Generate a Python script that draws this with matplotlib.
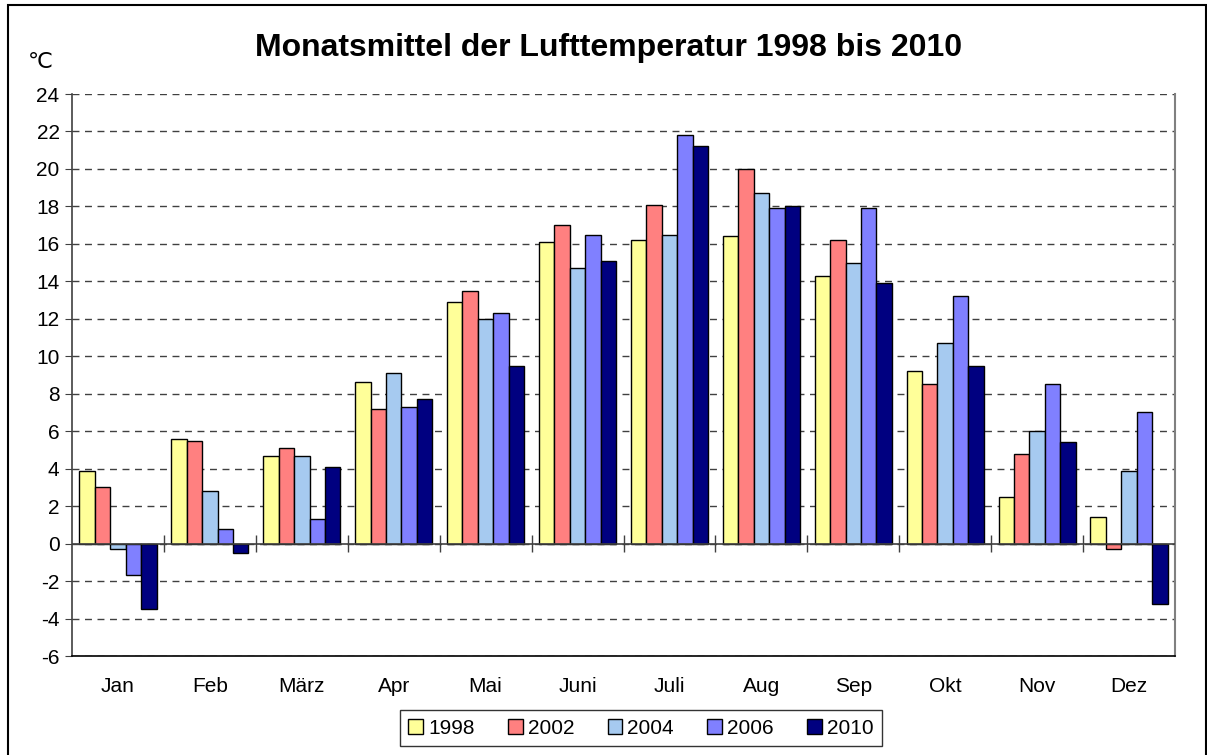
import numpy as np
import matplotlib
matplotlib.use("Agg")
import matplotlib.pyplot as plt
from matplotlib.patches import Rectangle

plt.rcParams['font.family'] = ['Liberation Sans', 'DejaVu Sans']
plt.rcParams['axes.unicode_minus'] = False

# Monatsmittel der Lufttemperatur (°C)
months = ["Jan", "Feb", "März", "Apr", "Mai", "Juni", "Juli", "Aug", "Sep", "Okt", "Nov", "Dez"]
years = ["1998", "2002", "2004", "2006", "2010"]
t1998 = [3.9, 5.6, 4.7, 8.6, 12.9, 16.1, 16.2, 16.4, 14.3, 9.2, 2.5, 1.4]
t2002 = [3.0, 5.5, 5.1, 7.2, 13.5, 17.0, 18.1, 20.0, 16.2, 8.5, 4.8, -0.3]
t2004 = [-0.3, 2.8, 4.7, 9.1, 12.0, 14.7, 16.5, 18.7, 15.0, 10.7, 6.0, 3.9]
t2006 = [-1.7, 0.8, 1.3, 7.3, 12.3, 16.5, 21.8, 17.9, 17.9, 13.2, 8.5, 7.0]
t2010 = [-3.5, -0.5, 4.1, 7.7, 9.5, 15.1, 21.2, 18.0, 13.9, 9.5, 5.4, -3.2]
colors = ["#FFFF99", "#FF8080", "#A6CAF0", "#8080FF", "#000080"]

series = [t1998, t2002, t2004, t2006, t2010]

fig = plt.figure(figsize=(12.07, 7.55), dpi=100)
W, H = 1207, 755

# outer chart border
fig.patches.append(Rectangle((8 / W, -0.01), 1198 / W, 1 - 5 / H + 0.01,
                             transform=fig.transFigure, fill=False,
                             edgecolor="black", linewidth=1.5))

ax = fig.add_axes([72 / W, 1 - 656 / H, (1175 - 72) / W, (656 - 94) / H])

x = np.arange(len(months))
bw = 0.168
for i, (vals, col, lab) in enumerate(zip(series, colors, years)):
    ax.bar(x + (i - 2) * bw, vals, width=bw, color=col, edgecolor="black",
           linewidth=1.0, label=lab, zorder=3)

ax.set_xlim(-0.5, 11.5)
ax.set_ylim(-6, 24)
ax.set_yticks(np.arange(-6, 25, 2))
ax.yaxis.grid(True, linestyle=(0, (5, 4)), color="#404040", linewidth=1.0, zorder=0)
ax.set_axisbelow(True)

# zero line with category ticks
ax.axhline(0, color="#404040", linewidth=1.2, zorder=4)
ax.vlines(np.arange(0.5, 11.5, 1), -0.45, 0.45, color="#404040", linewidth=1.0, zorder=4)

ax.set_xticks(x)
ax.set_xticklabels(months)
ax.tick_params(axis="x", length=0, pad=15, labelsize=15)
ax.tick_params(axis="y", length=5, direction="out", labelsize=15, pad=4, color="#404040")

ax.spines["top"].set_visible(False)
ax.spines["right"].set_color("#808080")
ax.spines["right"].set_linewidth(1.5)
ax.spines["left"].set_color("#404040")
ax.spines["left"].set_linewidth(1.2)
ax.spines["bottom"].set_color("black")
ax.spines["bottom"].set_linewidth(1.2)

fig.text(609 / W, 1 - 48 / H, "Monatsmittel der Lufttemperatur 1998 bis 2010",
         ha="center", va="center", fontsize=23, fontweight="bold")
fig.text(40 / W, 1 - 62 / H, "\u2103", ha="center", va="center", fontsize=16,
         family=["DejaVu Sans"])

leg = ax.legend(loc="center", bbox_to_anchor=(641 / W, 1 - 728 / H),
                bbox_transform=fig.transFigure, ncol=5, frameon=True,
                fancybox=False, edgecolor="black", fontsize=15,
                handlelength=0.7, handleheight=0.7, handletextpad=0.25,
                columnspacing=1.6, borderpad=0.4)
leg.get_frame().set_linewidth(1.0)

fig.savefig("out.png", dpi=100)
